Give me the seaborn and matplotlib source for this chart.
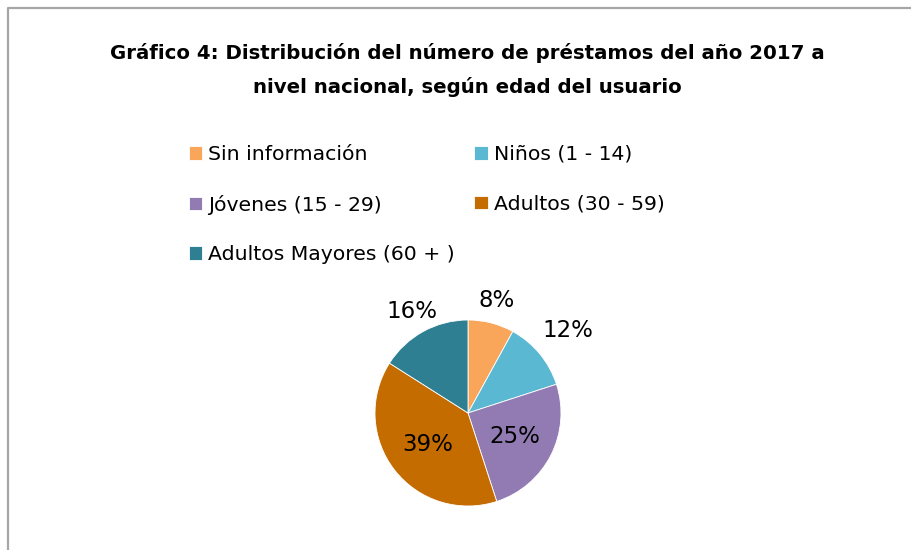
import numpy as np
import matplotlib
matplotlib.use("Agg")
import matplotlib.pyplot as plt
import seaborn as sns
from matplotlib.lines import Line2D

sns.set_theme(style="white")
plt.rcParams['font.family'] = ['DejaVu Sans']
plt.rcParams['text.color'] = 'black'

# data
categories = ["Sin información", "Niños (1 - 14)", "Jóvenes (15 - 29)",
              "Adultos (30 - 59)", "Adultos Mayores (60 + )"]
shares = [8, 12, 25, 39, 16]
colors = ["#F9A65A", "#5BB8D2", "#927BB3", "#C46C00", "#2F7F92"]
title = ("Gráfico 4: Distribución del número de préstamos del año 2017 a\n"
         "nivel nacional, según edad del usuario")

# label placement (fraction of radius) per slice
label_dist = [1.25, 1.4, 0.56, 0.55, 1.25]

W, H = 911, 550
fig = plt.figure(figsize=(W / 100, H / 100), dpi=100)
fig.patch.set_facecolor("white")

# chart area border: only the top and left edges fall inside the crop
bx, by = 8 / W, 1 - 8 / H
fig.lines.append(Line2D([bx, bx, 1.0], [0.0, by, by], transform=fig.transFigure,
                        color="#a6a6a6", linewidth=1.6))

fig.text(467 / W, 1 - 70 / H, title, ha="center", va="center",
         fontsize=14.2, fontweight="bold", linespacing=1.85, color="black")

cx, cy, r = 468, 413, 93
ax = fig.add_axes([(cx - r) / W, (H - cy - r) / H, 2 * r / W, 2 * r / H])
wedges, _ = ax.pie(shares, colors=colors, startangle=90, counterclock=False,
                   wedgeprops=dict(edgecolor="white", linewidth=0.6))
ax.set_xlim(-1, 1)
ax.set_ylim(-1, 1)
ax.set_aspect("equal")
ax.axis("off")

for w, v, d in zip(wedges, shares, label_dist):
    mid = np.deg2rad((w.theta1 + w.theta2) / 2)
    ax.text(d * np.cos(mid), d * np.sin(mid), f"{v}%", ha="center",
            va="center", fontsize=16.5, color="black")

# legend filled row by row like the original
order = [0, 2, 4, 1, 3]
leg = fig.legend([wedges[i] for i in order], [categories[i] for i in order],
                 ncol=2, loc="upper left", bbox_to_anchor=(189 / W, 1 - 145 / H),
                 frameon=False, fontsize=14.7, borderpad=0, borderaxespad=0,
                 handlelength=0.65, handleheight=0.65, handletextpad=0.3,
                 labelspacing=1.5, columnspacing=0.95)
for t in leg.get_texts():
    t.set_color("black")

fig.savefig("out.png", dpi=100)
